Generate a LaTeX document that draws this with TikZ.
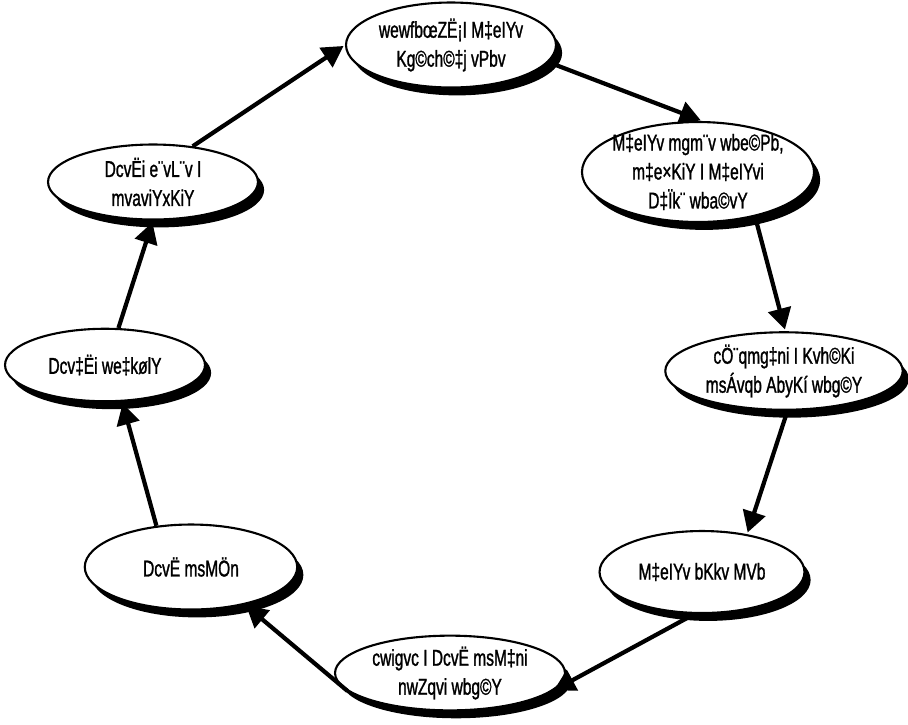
\documentclass[tikz,border=0pt]{standalone}
\usepackage{fontspec}
\setmainfont[FakeStretch=0.68,FakeBold=1.2]{Liberation Sans}
\usetikzlibrary{arrows.meta,shapes.geometric,shadows}
\tikzset{>={Triangle[length=12pt,width=13pt]},shorten >=1pt}
\tikzset{stage/.style={ellipse,draw,line width=1.2pt,fill=white,align=center,
        inner sep=0pt,font=\fontsize{13}{16.5}\selectfont,
        drop shadow={fill=black,opacity=1,shadow xshift=3.5pt,shadow yshift=-4.5pt}}}
\tikzset{flow/.style={->,line width=2.4pt}}

\begin{document}
\begin{tikzpicture}[x=0.02cm,y=-0.02cm]
    \useasboundingbox (0,0) rectangle (908,724);
    % stages of the cycle, clockwise from the top
    \node[stage,minimum width=4.2cm,minimum height=1.7cm] (review) at (451,45) {wewfbœZË¡I M‡eIYv\\Kg©ch©‡j vPbv};
    \node[stage,minimum width=4.4cm,minimum height=2cm,inner ysep=-3.5pt,inner xsep=-2pt] (problem) at (698,172) {M‡eIYv mgm¨v wbe©Pb,\\m‡e×KiY I M‡eIYvi\\D‡Ïk¨ wba©vY};
    \node[stage,minimum width=4.75cm,minimum height=1.55cm] (tools) at (784,371) {cÖ¨qmg‡ni I Kvh©Ki\\msÁvqb AbyKí wbg©Y};
    \node[stage,minimum width=4.1cm,minimum height=1.64cm] (design) at (702,572) {M‡eIYv bKkv MVb};
    \node[stage,minimum width=4.6cm,minimum height=1.48cm] (collect) at (450,673) {cwigvc I DcvË msM‡ni\\nwZqvi wbg©Y};
    \node[stage,minimum width=4.25cm,minimum height=1.7cm] (data) at (191,567) {DcvË msMÖn};
    \node[stage,minimum width=4cm,minimum height=1.45cm] (analysis) at (105,365) {Dcv‡Ëi we‡kølY};
    \node[stage,minimum width=4.2cm,minimum height=1.5cm] (interpret) at (153,182) {DcvËi e¨vL¨v I\\mvaviYxKiY};
    % arrows
    \draw[flow] (review.-10) -- (problem.85);
    \draw[flow] (problem.-38) -- (tools.88);
    \draw[flow] (tools.-85) -- (design.40);
    \draw[flow] (design.-100) -- (collect.-10);
    \draw[flow] (collect.190) -- (data.-35);
    \draw[flow] (data.130) -- (analysis.-65);
    \draw[flow] (analysis.70) -- (interpret.-90);
    \draw[flow] (interpret.42) -- (review.180);
\end{tikzpicture}
\end{document}
